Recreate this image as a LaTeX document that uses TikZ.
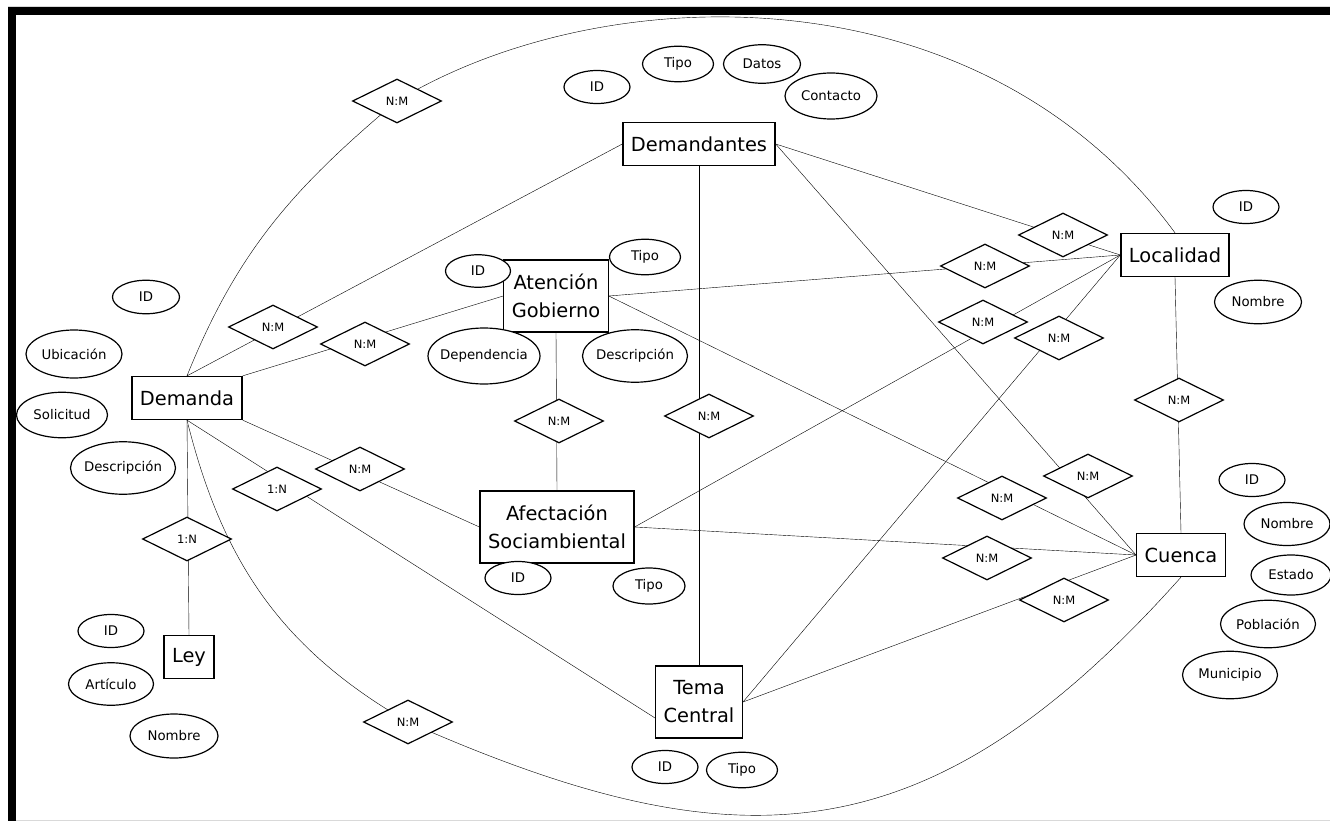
\documentclass[tikz,border=0pt]{standalone}
\usepackage{fontspec}
\setmainfont{DejaVu Sans}
\usetikzlibrary{shapes.geometric,backgrounds}

\tikzset{
  entidad/.style={draw, line width=1.3pt, fill=white, inner xsep=8pt, inner ysep=2pt,
    minimum height=43pt, align=center, font=\fontsize{19.4}{28}\selectfont},
  relacion/.style={draw, diamond, line width=1.2pt, fill=white, inner sep=0pt,
    minimum width=89pt, minimum height=44pt, font=\fontsize{11.5}{13}\selectfont},
  atributo/.style={draw, ellipse, line width=1.2pt, fill=white, inner sep=0pt,
    inner xsep=-8pt, font=\fontsize{13.3}{15}\selectfont},
  enlace/.style={line width=1.3pt}
}

\begin{document}
\begin{tikzpicture}[x=1pt, y=1pt]
  \useasboundingbox (0,0) rectangle (1330,-821);

  % Frame of the capture
  \fill (8,-7) rectangle (1330,-15);
  \fill (8,-7) rectangle (16,-821);
  \draw[black!15] (8,-6) -- (1330,-6);
  \draw[black!15] (16,-820) -- (1330,-820);

  % Entities
  \node[entidad] (dem) at (187,-398) {Demanda};
  \node[entidad] (dmt) at (699,-144) {Demandantes};
  \node[entidad, minimum height=72pt] (atg) at (556,-296) {Atención\\Gobierno};
  \node[entidad] (loc) at (1175,-255) {Localidad};
  \node[entidad] (ley) at (189,-657) {Ley};
  \node[entidad, minimum height=72pt] (afs) at (557,-527) {Afectación\\Sociambiental};
  \node[entidad, minimum height=72pt] (tem) at (699,-702) {Tema\\Central};
  \node[entidad] (cue) at (1181,-555) {Cuenca};

  % Relationships
  \foreach \n/\x/\y/\lbl in {r1/397/101/N:M, r2/273/327/N:M, r3/365/344/N:M,
    r4/360/469/N:M, r5/277/489/1:N, r6/187/539/1:N, r7/408/722/N:M,
    r8/559/421/N:M, r9/709/416/N:M, r10/1063/235/N:M, r11/985/266/N:M,
    r12/983/322/N:M, r13/1059/338/N:M, r14/1179/400/N:M, r15/1088/476/N:M,
    r16/1002/498/N:M, r17/987/558/N:M, r18/1064/600/N:M} {
    \node[relacion] (\n) at (\x,-\y) {\lbl};
  }

  % Attributes (height is half the width)
  \foreach \n/\x/\y/\w/\lbl in {dmtid/597/87/66/ID, dmttipo/678/64/71/Tipo,
    dmtdatos/762/64/77/Datos, dmtcont/831/96/92/Contacto,
    atgid/478/271/65/ID, atgtipo/645/257/71/Tipo,
    atgdep/484/356/112/Dependencia, atgdesc/635/356/105/Descripción,
    locid/1246/207/66/ID, locnom/1258/302/87/Nombre,
    demid/146/297/67/ID, demubi/74/354/96/Ubicación,
    demsol/62/415/91/Solicitud, demdesc/123/468/105/Descripción,
    leyid/111/631/66/ID, leyart/111/684/85/Artículo, leynom/174/736/88/Nombre,
    afsid/518/578/66/ID, afstipo/649/586/72/Tipo,
    temid/665/767/66/ID, temtipo/742/770/71/Tipo,
    cueid/1252/480/66/ID, cuenom/1287/524/86/Nombre, cueest/1291/575/80/Estado,
    cuepob/1268/624/95/Población, cuemun/1230/675/95/Municipio} {
    \pgfmathsetmacro{\h}{\w/2}
    \node[atributo, minimum width=\w pt, minimum height=\h pt] (\n) at (\x,-\y) {\lbl};
  }

  % Connectors, behind the diamonds
  \begin{scope}[on background layer, enlace]
    \draw (dem.north) to[out=68, in=220] (r1.center)
      .. controls (600,22) and (978,35) .. (loc.north);
    \draw (dem.south) to[out=-76, in=150] (r7.center)
      .. controls (734,-866) and (927,-862) .. (cue.south);
    \draw (dem.north) -- (dmt.west);
    \draw (dem.north east) -- (atg.west);
    \draw (dem.south east) -- (afs.west);
    \draw (dem.south) -- (tem.200);
    \draw (dem.south) -- (ley.north);
    \draw (atg.south) -- (afs.north);
    \draw (dmt.south) -- (tem.north);
    \draw (dmt.east) -- (loc.west);
    \draw (atg.east) -- (loc.west);
    \draw (afs.east) -- (loc.west);
    \draw (tem.east) -- (loc.west);
    \draw (loc.south) -- (cue.north);
    \draw (dmt.east) -- (cue.west);
    \draw (atg.east) -- (cue.west);
    \draw (afs.east) -- (cue.west);
    \draw (tem.east) -- (cue.west);
  \end{scope}
\end{tikzpicture}
\end{document}
